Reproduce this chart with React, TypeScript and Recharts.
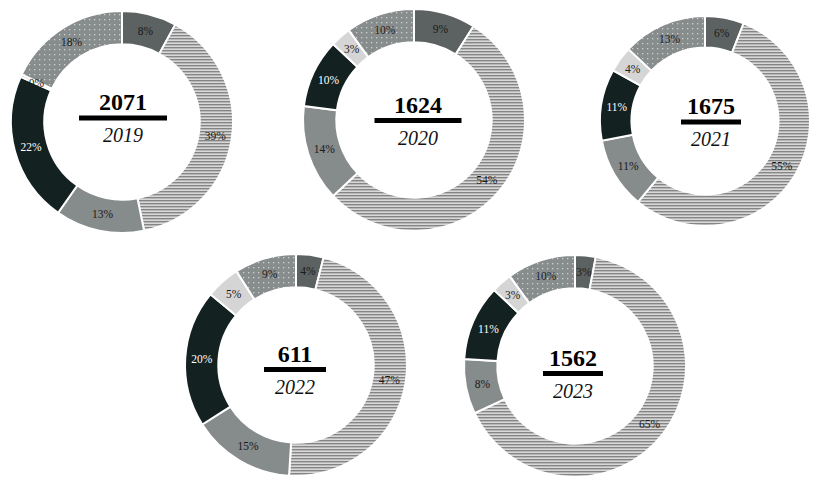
import React from 'react'
import { PieChart, Pie, Cell } from 'recharts'

// segment order, clockwise from 12 o'clock
const segments = ['dark', 'striped', 'mid', 'black', 'light', 'dotted']

const years = ['2019', '2020', '2021', '2022', '2023']
const totals = [2071, 1624, 1675, 611, 1562]

const shares2019 = [8, 39, 13, 22, 0.4, 18]
const shares2020 = [9, 54, 14, 10, 3, 10]
const shares2021 = [6, 55, 11, 11, 4, 13]
const shares2022 = [4, 47, 15, 20, 5, 9]
const shares2023 = [3, 65, 8, 11, 3, 10]

const allShares = [shares2019, shares2020, shares2021, shares2022, shares2023]

const fills = ['#5c6261', 'url(#stripes)', '#868b8b', '#142121', '#d5d5d5', 'url(#dots)']
const labelColors = ['#1a1a1a', '#1a1a1a', '#1a1a1a', '#ffffff', '#1a1a1a', '#1a1a1a']

// where each donut sits on the page
const layout = [
  { cx: 122, cy: 122, r: 111, textX: 123, barY: 118, barW: 88 },
  { cx: 414, cy: 120, r: 111, textX: 418, barY: 120.5, barW: 87 },
  { cx: 705, cy: 121, r: 105, textX: 711, barY: 122, barW: 60 },
  { cx: 296, cy: 365, r: 111, textX: 295, barY: 369.5, barW: 62 },
  { cx: 575, cy: 366, r: 111, textX: 573, barY: 373.5, barW: 60 },
]

const SIZE = 240
const RAD = Math.PI / 180
const serif = '"Liberation Serif", "Times New Roman", serif'

function renderLabel(props: any) {
  const { cx, cy, midAngle, innerRadius, outerRadius, value, index } = props
  const r = (innerRadius + outerRadius) / 2
  const x = cx + r * Math.cos(-midAngle * RAD)
  const y = cy + r * Math.sin(-midAngle * RAD)
  return (
    <text
      x={x}
      y={y}
      fill={labelColors[index]}
      fontSize={11.5}
      fontFamily={serif}
      textAnchor="middle"
      dominantBaseline="central"
    >
      {Math.round(value)}%
    </text>
  )
}

function Donut({ i }: { i: number }) {
  const pos = layout[i]
  const data = segments.map((name, k) => ({ name, value: allShares[i][k] }))
  const left = pos.cx - SIZE / 2
  const top = pos.cy - SIZE / 2
  const tx = pos.textX - left
  const by = pos.barY - top
  return (
    <div style={{ position: 'absolute', left, top, width: SIZE, height: SIZE }}>
      <PieChart width={SIZE} height={SIZE} margin={{ top: 0, right: 0, bottom: 0, left: 0 }}>
        <Pie
          data={data}
          dataKey="value"
          cx={SIZE / 2}
          cy={SIZE / 2}
          outerRadius={pos.r}
          innerRadius={pos.r * 0.7}
          startAngle={90}
          endAngle={-270}
          stroke="#ffffff"
          strokeWidth={2}
          label={renderLabel}
          labelLine={false}
          isAnimationActive={false}
        >
          {data.map((d, k) => (
            <Cell key={d.name} fill={fills[k]} />
          ))}
        </Pie>
      </PieChart>
      <svg width={SIZE} height={SIZE} style={{ position: 'absolute', left: 0, top: 0, pointerEvents: 'none' }}>
        <text x={tx} y={by - 8} textAnchor="middle" fontSize={24} fontWeight="bold" fontFamily={serif} fill="#000">
          {totals[i]}
        </text>
        <rect x={tx - pos.barW / 2} y={by - 2.5} width={pos.barW} height={5} fill="#000" />
        <text x={tx} y={by + 24} textAnchor="middle" fontSize={20} fontStyle="italic" fontFamily={serif} fill="#111">
          {years[i]}
        </text>
      </svg>
    </div>
  )
}

export default function App() {
  return (
    <div style={{ position: 'absolute', left: 0, top: 0, width: 815, height: 478, background: '#fff', overflow: 'hidden' }}>
      <svg width={0} height={0} style={{ position: 'absolute' }}>
        <defs>
          <pattern id="stripes" patternUnits="userSpaceOnUse" width={6} height={3}>
            <rect width={6} height={3} fill="#d8d8d8" />
            <rect width={6} height={1.4} fill="#858585" />
          </pattern>
          <pattern id="dots" patternUnits="userSpaceOnUse" width={5} height={5}>
            <rect width={5} height={5} fill="#878c8c" />
            <rect x={2} y={2} width={1.3} height={1.3} fill="#d0d0d0" />
          </pattern>
        </defs>
      </svg>
      {years.map((y, i) => (
        <Donut key={y} i={i} />
      ))}
    </div>
  )
}
